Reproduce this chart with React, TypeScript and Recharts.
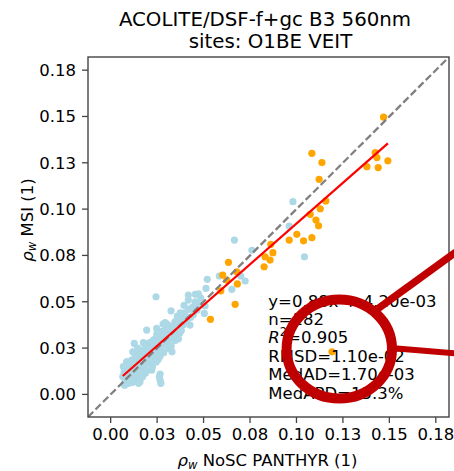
import React from 'react';
import { ScatterChart, Scatter, XAxis, YAxis } from 'recharts';

// Matchups per site: [PANTHYR reflectance, MSI reflectance]
const siteO1BE: [number, number][] = [
  [0.0981, 0.104], [0.0961, 0.0909], [0.1043, 0.0743], [0.076, 0.0778], [0.0666, 0.0833],
  [0.0585, 0.0639], [0.07, 0.0639], [0.0724, 0.0612], [0.0652, 0.0567], [0.052, 0.0621],
  [0.0513, 0.0572], [0.0472, 0.0542], [0.0455, 0.054], [0.0418, 0.0536], [0.0418, 0.0509],
  [0.0508, 0.0477], [0.045, 0.0477], [0.0504, 0.0437], [0.0244, 0.0527], [0.0325, 0.0451],
  [0.0359, 0.0423], [0.0346, 0.0392], [0.0302, 0.038], [0.0282, 0.038], [0.0427, 0.0374],
  [0.0248, 0.0356], [0.0356, 0.0356],
  [0.0293, 0.0387], [0.0359, 0.0387], [0.04, 0.0392], [0.0194, 0.0347], [0.0248, 0.0326],
  [0.0329, 0.0333], [0.0373, 0.0333], [0.0127, 0.0275], [0.0176, 0.0279], [0.023, 0.0293],
  [0.0275, 0.0275], [0.031, 0.0248], [0.0212, 0.0248], [0.0158, 0.023], [0.0119, 0.023],
  [0.0194, 0.0203], [0.0256, 0.0189], [0.0221, 0.0176], [0.0086, 0.0176], [0.0113, 0.0185],
  [0.0077, 0.0149], [0.0149, 0.0149], [0.0176, 0.0131], [0.0221, 0.0131], [0.0266, 0.011],
  [0.0266, 0.0077], [0.0104, 0.0113], [0.0086, 0.0104], [0.0122, 0.0086], [0.0077, 0.0068],
  [0.0158, 0.0068], [0.0113, 0.0063], [0.014, 0.0104],
  [0.0065, 0.0095], [0.0072, 0.012], [0.008, 0.0085], [0.009, 0.014], [0.0095, 0.006],
  [0.01, 0.016], [0.0105, 0.008], [0.011, 0.0125], [0.0118, 0.01], [0.0125, 0.015],
  [0.013, 0.007], [0.0135, 0.0175], [0.014, 0.012], [0.0145, 0.009], [0.015, 0.0195],
  [0.0068, 0.015], [0.0075, 0.005], [0.0088, 0.0175], [0.0098, 0.0105], [0.0122, 0.013],
  [0.016, 0.011], [0.0165, 0.016], [0.017, 0.021], [0.0175, 0.024], [0.018, 0.015],
  [0.0185, 0.019], [0.019, 0.026], [0.0195, 0.013], [0.02, 0.022], [0.0205, 0.017],
  [0.021, 0.028], [0.0215, 0.02], [0.022, 0.024], [0.0225, 0.015], [0.023, 0.0265],
  [0.0235, 0.021], [0.024, 0.03], [0.0245, 0.0175], [0.025, 0.0235], [0.0155, 0.0225],
  [0.0145, 0.025], [0.0132, 0.021], [0.0128, 0.0185], [0.0172, 0.0095], [0.0188, 0.0115],
  [0.0255, 0.028], [0.026, 0.031], [0.0265, 0.0205], [0.027, 0.025], [0.0275, 0.034],
  [0.028, 0.03], [0.0285, 0.0225], [0.029, 0.027], [0.0295, 0.035], [0.03, 0.0315],
  [0.0305, 0.0285], [0.031, 0.036], [0.0315, 0.03], [0.032, 0.0335], [0.0325, 0.026],
  [0.033, 0.037], [0.0335, 0.031], [0.034, 0.0345], [0.0345, 0.029], [0.035, 0.038],
  [0.0355, 0.032], [0.036, 0.036], [0.0365, 0.03], [0.037, 0.039], [0.038, 0.0345],
  [0.039, 0.0375], [0.0395, 0.041], [0.027, 0.006], [0.0262, 0.0095],
  [0.0385, 0.042], [0.04, 0.044], [0.041, 0.0395], [0.042, 0.046], [0.043, 0.0415],
  [0.044, 0.047], [0.0445, 0.043], [0.0455, 0.05], [0.0465, 0.0455], [0.0475, 0.049],
  [0.0485, 0.052], [0.0375, 0.044], [0.036, 0.041], [0.0395, 0.048],
  [0.015, 0.006], [0.033, 0.023],
];

const siteVEIT: [number, number][] = [
  [0.1469, 0.1496], [0.1083, 0.1301], [0.1137, 0.1251], [0.1424, 0.1305], [0.1433, 0.1278],
  [0.1492, 0.1261], [0.1379, 0.1229], [0.144, 0.1224], [0.1122, 0.1161], [0.1158, 0.1044],
  [0.1128, 0.1002], [0.1074, 0.0972], [0.1105, 0.0941], [0.1119, 0.091], [0.1002, 0.0864],
  [0.0961, 0.0833], [0.1038, 0.0829], [0.1083, 0.0846], [0.0862, 0.081], [0.0873, 0.0765],
  [0.0831, 0.0743], [0.0858, 0.0725], [0.0634, 0.0713], [0.0603, 0.0644], [0.0625, 0.0617],
  [0.0682, 0.0596], [0.0679, 0.0662], [0.0593, 0.0559], [0.067, 0.0486], [0.0537, 0.0405],
  [0.0826, 0.0689], [0.1191, 0.023],
];

const tickValues = [0, 0.025, 0.05, 0.075, 0.1, 0.125, 0.15, 0.175];
const tickLabels = ['0.00', '0.03', '0.05', '0.08', '0.10', '0.13', '0.15', '0.18'];
const axisMin = -0.0122;
const axisMax = 0.1821;

// Fit statistics
const slope = 0.88;
const intercept = 0.0042;
const nMatchups = 182;
const rSquared = '0.905';
const rmsd = '1.10e-02';
const medAD = '1.70e-03';
const medAPD = '15.3%';

const toPoints = (arr: [number, number][]) => arr.map(([x, y]) => ({ x, y }));
const blueData = toPoints(siteO1BE);
const orangeData = toPoints(siteVEIT);
const allX = [...siteO1BE, ...siteVEIT].map((p) => p[0]);
const xMin = Math.min(...allX);
const xMax = Math.max(...allX);
const oneToOne = [{ x: axisMin, y: axisMin }, { x: axisMax, y: axisMax }];
const fitLine = [
  { x: xMin, y: slope * xMin + intercept },
  { x: xMax, y: slope * xMax + intercept },
];

const FONT = 'DejaVu Sans, sans-serif';
const dot = (color: string) => (p: any) => <circle cx={p.cx} cy={p.cy} r={3.6} fill={color} />;
const noShape = () => <g />;

const tickStyle = { fill: '#000', fontSize: 16.5, fontFamily: FONT };

export default function App() {
  return (
    <div style={{ position: 'absolute', left: 0, top: 0, width: 454, height: 471, background: '#fff' }}>
      <ScatterChart width={454} height={471} margin={{ top: 57, right: 5, bottom: 0, left: 0 }}>
        <XAxis
          type="number"
          dataKey="x"
          domain={[axisMin, axisMax]}
          allowDataOverflow
          ticks={tickValues}
          interval={0}
          tickFormatter={(_v: number, i: number) => tickLabels[i]}
          height={54}
          tickSize={6}
          tickMargin={5}
          axisLine={false}
          tickLine={{ stroke: '#444', strokeWidth: 1.3 }}
          tick={tickStyle}
        />
        <YAxis
          type="number"
          dataKey="y"
          domain={[axisMin, axisMax]}
          allowDataOverflow
          ticks={tickValues}
          interval={0}
          tickFormatter={(_v: number, i: number) => tickLabels[i]}
          width={88}
          tickSize={6}
          tickMargin={6}
          axisLine={false}
          tickLine={{ stroke: '#444', strokeWidth: 1.3 }}
          tick={tickStyle}
        />
        <Scatter data={blueData} fill="#add8e6" shape={dot('#add8e6')} isAnimationActive={false} />
        <Scatter data={orangeData} fill="#ffa500" shape={dot('#ffa500')} isAnimationActive={false} />
        <Scatter
          data={oneToOne}
          shape={noShape}
          line={{ stroke: '#808080', strokeWidth: 2.3, strokeDasharray: '7.4 3.2' }}
          isAnimationActive={false}
        />
        <Scatter
          data={fitLine}
          shape={noShape}
          line={{ stroke: '#ff0000', strokeWidth: 2.2 }}
          isAnimationActive={false}
        />
      </ScatterChart>
      <svg
        width={454}
        height={471}
        style={{ position: 'absolute', left: 0, top: 0, pointerEvents: 'none' }}
        fontFamily={FONT}
      >
        <rect x={88} y={57} width={361} height={360} fill="none" stroke="#444" strokeWidth={1.4} />
        <text x={265} y={26} fontSize={19.8} textAnchor="middle" fill="#000">
          ACOLITE/DSF-f+gc B3 560nm
        </text>
        <text x={270.5} y={48.3} fontSize={19.8} textAnchor="middle" fill="#000">
          sites: O1BE VEIT
        </text>
        <text transform="translate(33,220) rotate(-90)" fontSize={16.5} textAnchor="middle" fill="#000">
          <tspan fontStyle="italic">ρ</tspan>
          <tspan fontStyle="italic" fontSize={11.5} dy={3}>w</tspan>
          <tspan dy={-3}> MSI (1)</tspan>
        </text>
        <text x={267.5} y={465.5} fontSize={16.5} textAnchor="middle" fill="#000">
          <tspan fontStyle="italic">ρ</tspan>
          <tspan fontStyle="italic" fontSize={11.5} dy={3}>w</tspan>
          <tspan dy={-3}> NoSC PANTHYR (1)</tspan>
        </text>
        <g fontSize={16.5} fill="#000">
          <text x={268.3} y={306.6}>{`y=${slope.toFixed(2)}x + ${intercept.toExponential(2).replace('e-3', 'e-03')}`}</text>
          <text x={268.3} y={325}>{`n=${nMatchups}`}</text>
          <text x={268.3} y={343.4}>
            <tspan fontStyle="italic">R</tspan>
            <tspan fontSize={11.5} dy={-7}>2</tspan>
            <tspan dy={7}>={rSquared}</tspan>
          </text>
          <text x={268.3} y={361.8}>{`RMSD=${rmsd}`}</text>
          <text x={268.3} y={380.2}>{`MedAD=${medAD}`}</text>
          <text x={268.3} y={398.6}>{`MedAPD=${medAPD}`}</text>
        </g>
        <g stroke="#c00000" fill="none">
          <ellipse cx={339.3} cy={349} rx={52.7} ry={49.5} strokeWidth={10} />
          <line x1={377.5} y1={309} x2={456} y2={252} strokeWidth={7.5} />
          <line x1={394} y1={348.3} x2={456} y2={353.5} strokeWidth={6} />
        </g>
      </svg>
    </div>
  );
}
